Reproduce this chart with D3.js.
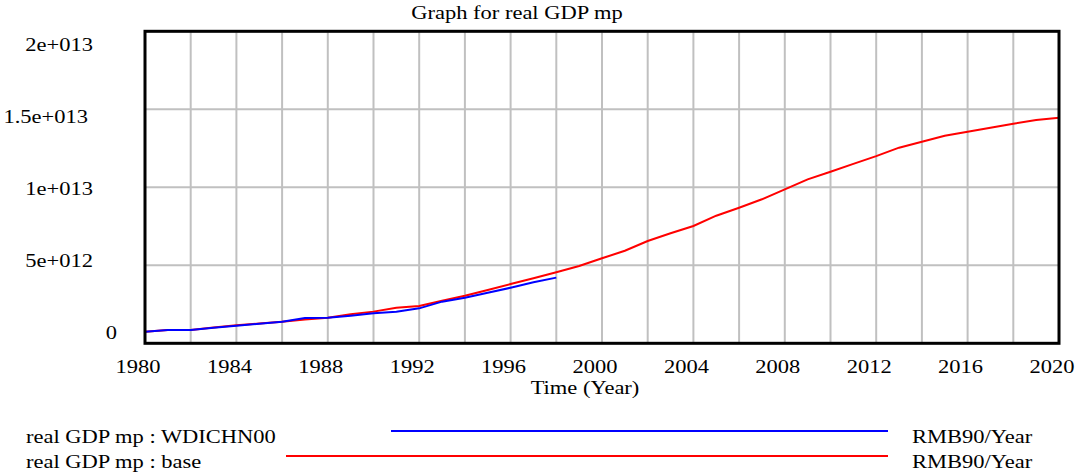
<!DOCTYPE html>
<html>
<head>
<meta charset="utf-8">
<script src="https://cdn.jsdelivr.net/npm/d3@7"></script>
<style>
  body { margin: 0; background: #fff; }
</style>
</head>
<body>
<div class="board"></div>
<script>
// values in units of 1e12 RMB90/Year
var years = d3.range(1980, 2021);
var baseValues = [0.74, 0.85, 0.86, 1.01, 1.15, 1.27, 1.38, 1.52, 1.64, 1.86,
  2.03, 2.28, 2.39, 2.73, 3.05, 3.42, 3.80, 4.17, 4.55, 4.96,
  5.45, 5.93, 6.56, 7.05, 7.52, 8.18, 8.69, 9.23, 9.87, 10.51,
  11.0, 11.5, 12.0, 12.54, 12.92, 13.31, 13.56, 13.82, 14.08, 14.31, 14.46];
var wdiYears = d3.range(1980, 1999);
var wdiValues = [0.74, 0.85, 0.86, 1.0, 1.13, 1.25, 1.38, 1.62, 1.64, 1.77,
  1.92, 2.03, 2.24, 2.67, 2.92, 3.24, 3.56, 3.91, 4.21];

var xTicks = [1980, 1984, 1988, 1992, 1996, 2000, 2004, 2008, 2012, 2016, 2020];
var yTicks = [0, 5, 10, 15, 20];
var yTickLabels = ['0', '5e+012', '1e+013', '1.5e+013', '2e+013'];

var seriesNames = ['real GDP mp : WDICHN00', 'real GDP mp : base'];
var seriesUnits = ['RMB90/Year', 'RMB90/Year'];
var seriesColors = ['#0000ff', '#ff0000'];

var width = 1075, height = 472;
var stretch = 'scale(1.25,1)';

var svg = d3.select('.board').append('svg')
  .attr('width', width)
  .attr('height', height);

var x = d3.scaleLinear().domain([1980, 2020]).range([145, 1059]);
var y = d3.scaleLinear().domain([0, 20]).range([343.3, 31.3]);
// Vensim spreads the labels a little inside the frame
var yLabel = d3.scaleLinear().domain([0, 20]).range([333, 45]);
// the value labels are not quite right aligned in the original
var yLabelNudge = {0: 24, 15: -5};

function label(txt, px, py, anchor) {
  svg.append('text')
    .attr('transform', 'translate(' + px + ',' + py + ') ' + stretch)
    .attr('text-anchor', anchor)
    .style('font-family', "'Liberation Serif'")
    .style('font-size', '18px')
    .attr('fill', '#000')
    .text(txt);
}

// grid
svg.append('g').selectAll('line').data(x.ticks(20)).enter().append('line')
  .attr('x1', function(d) { return x(d); })
  .attr('x2', function(d) { return x(d); })
  .attr('y1', y(20))
  .attr('y2', y(0))
  .attr('stroke', '#c0c0c0')
  .attr('stroke-width', 2);

svg.append('g').selectAll('line').data(yTicks).enter().append('line')
  .attr('x1', x(1980))
  .attr('x2', x(2020))
  .attr('y1', function(d) { return y(d); })
  .attr('y2', function(d) { return y(d); })
  .attr('stroke', '#c0c0c0')
  .attr('stroke-width', 2);

// series
var line = d3.line()
  .x(function(d) { return x(d[0]); })
  .y(function(d) { return y(d[1]); });

svg.append('path')
  .datum(d3.zip(years, baseValues))
  .attr('d', line)
  .attr('fill', 'none')
  .attr('stroke', seriesColors[1])
  .attr('stroke-width', 2);

svg.append('path')
  .datum(d3.zip(wdiYears, wdiValues))
  .attr('d', line)
  .attr('fill', 'none')
  .attr('stroke', seriesColors[0])
  .attr('stroke-width', 2);

// frame
svg.append('rect')
  .attr('x', x(1980))
  .attr('y', y(20))
  .attr('width', x(2020) - x(1980))
  .attr('height', y(0) - y(20))
  .attr('fill', 'none')
  .attr('stroke', '#000')
  .attr('stroke-width', 3);

// labels
label('Graph for real GDP mp', 517, 19, 'middle');

xTicks.forEach(function(t) {
  label(String(t), x(t) - 7, 373, 'middle');
});
yTicks.forEach(function(t, i) {
  label(yTickLabels[i], 93 + (yLabelNudge[t] || 0), yLabel(t) + 6, 'end');
});
label('Time (Year)', 585, 394, 'middle');

// legend
var legendRows = [437, 462];
var legendLineStart = [391, 286];
seriesNames.forEach(function(name, i) {
  label(name, 26, legendRows[i] + 6, 'start');
  svg.append('line')
    .attr('x1', legendLineStart[i])
    .attr('x2', 888)
    .attr('y1', legendRows[i] - 6)
    .attr('y2', legendRows[i] - 6)
    .attr('stroke', seriesColors[i])
    .attr('stroke-width', 2);
  label(seriesUnits[i], 912, legendRows[i] + 6, 'start');
});
</script>
</body>
</html>
